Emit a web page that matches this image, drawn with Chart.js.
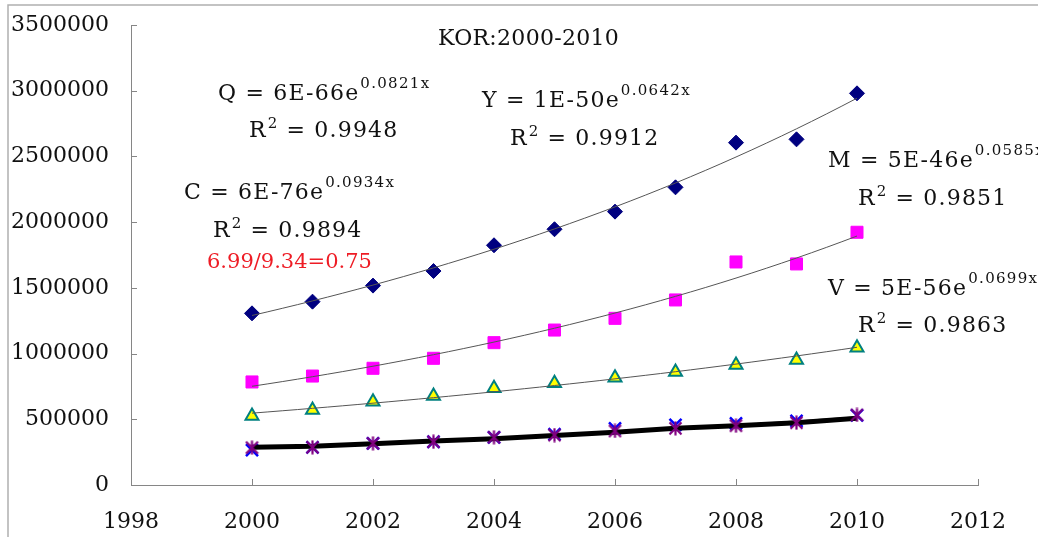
<!DOCTYPE html>
<html>
<head>
<meta charset="utf-8">
<script src="https://cdn.jsdelivr.net/npm/chart.js@4.4.1/dist/chart.umd.min.js"></script>
<style>
  html, body { margin: 0; padding: 0; background: #ffffff; }
  canvas { display: block; }
</style>
</head>
<body>
<canvas id="chart" width="1038" height="537"></canvas>
<script>
// Korea, 2000-2010: yearly values of five aggregates with exponential trends
const years = [2000, 2001, 2002, 2003, 2004, 2005, 2006, 2007, 2008, 2009, 2010];

const qValues = [1306000, 1395000, 1517000, 1628000, 1824000, 1946000, 2080000, 2265000, 2605000, 2630000, 2980000];
const cValues = [784000, 829000, 888000, 964000, 1083000, 1179000, 1268000, 1408000, 1697000, 1682000, 1923000];
const vValues = [525000, 571000, 634000, 677000, 736000, 774000, 816000, 860000, 913000, 951000, 1045000];
const yValues = [284000, 287000, 317000, 329000, 363000, 380000, 411000, 431000, 451000, 474000, 533000];
const mValues = [266000, 287000, 317000, 329000, 363000, 386000, 431000, 457000, 469000, 487000, 530000];
// bold trend line drawn under the M markers
const mTrendValues = [287000, 294000, 314000, 335000, 352000, 377000, 401000, 431000, 451000, 474000, 508000];

const xRange = [1998, 2012];
const xStep = 2;
const yRange = [0, 3500000];
const yStep = 500000;

const title = 'KOR:2000-2010';
const equations = [
  { key: 'Q', lhs: 'Q = 6E-66e', rate: '0.0821x', r2: '0.9948' },
  { key: 'Y', lhs: 'Y = 1E-50e', rate: '0.0642x', r2: '0.9912' },
  { key: 'C', lhs: 'C = 6E-76e', rate: '0.0934x', r2: '0.9894' },
  { key: 'M', lhs: 'M = 5E-46e', rate: '0.0585x', r2: '0.9851' },
  { key: 'V', lhs: 'V = 5E-56e', rate: '0.0699x', r2: '0.9863' }
];
const ratioNote = '6.99/9.34=0.75';

// ---------------------------------------------------------------------------

const toPoints = (xs, ys) => xs.map((x, i) => ({ x: x, y: ys[i] }));

// least-squares fit of ln(y) against x, i.e. y = a * e^(b x)
function expTrend(xs, ys) {
  const n = xs.length, x0 = xs[0];
  let sx = 0, sy = 0, sxx = 0, sxy = 0;
  xs.forEach((x, i) => {
    const t = x - x0, l = Math.log(ys[i]);
    sx += t; sy += l; sxx += t * t; sxy += t * l;
  });
  const b = (n * sxy - sx * sy) / (n * sxx - sx * sx);
  const a = (sy - b * sx) / n;
  const pts = [];
  for (let x = xs[0]; x <= xs[n - 1] + 1e-9; x += 0.25) {
    pts.push({ x: x, y: Math.exp(a + b * (x - x0)) });
  }
  return pts;
}

function asteriskMarker(color, size, lw) {
  const c = document.createElement('canvas');
  c.width = size; c.height = size;
  const g = c.getContext('2d');
  const m = size / 2, d = size / 2 - 1.5, v = size / 2 - 0.5;
  g.strokeStyle = color;
  g.lineWidth = lw;
  g.beginPath();
  g.moveTo(m - d, m - d); g.lineTo(m + d, m + d);
  g.moveTo(m + d, m - d); g.lineTo(m - d, m + d);
  g.moveTo(m, m - v); g.lineTo(m, m + v);
  g.stroke();
  return c;
}

const TEXT_COLOR = '#111111';
const AXIS_COLOR = '#868686';
const TREND_COLOR = '#555555';
const MAIN_FONT = '22px "DejaVu Serif", "Liberation Serif", serif';
const SUP_FONT = '15px "DejaVu Serif", "Liberation Serif", serif';

// inward tick marks on both axes
const innerTicks = {
  id: 'innerTicks',
  beforeDatasetsDraw(chart) {
    const { ctx, chartArea, scales } = chart;
    const len = 6;
    ctx.save();
    ctx.strokeStyle = AXIS_COLOR;
    ctx.lineWidth = 1;
    ctx.beginPath();
    scales.x.ticks.forEach(t => {
      const px = Math.round(scales.x.getPixelForValue(t.value)) + 0.5;
      ctx.moveTo(px, chartArea.bottom);
      ctx.lineTo(px, chartArea.bottom - len);
    });
    scales.y.ticks.forEach(t => {
      const py = Math.round(scales.y.getPixelForValue(t.value)) + 0.5;
      ctx.moveTo(chartArea.left, py);
      ctx.lineTo(chartArea.left + len, py);
    });
    ctx.stroke();
    ctx.restore();
  }
};

// frame edge, title, trend equations and the ratio note
const annotations = {
  id: 'annotations',
  afterDraw(chart, args, opts) {
    const ctx = chart.ctx;
    ctx.save();
    ctx.strokeStyle = '#b0b0b0';
    ctx.lineWidth = 1.5;
    ctx.beginPath();
    ctx.moveTo(8, chart.height + 2);
    ctx.lineTo(8, 5);
    ctx.lineTo(chart.width + 2, 5);
    ctx.stroke();

    ctx.fillStyle = TEXT_COLOR;
    ctx.textAlign = 'left';
    ctx.textBaseline = 'alphabetic';
    const spacing = 'letterSpacing' in ctx;
    const setSpacing = s => { if (spacing) ctx.letterSpacing = s; };

    ctx.font = MAIN_FONT;
    setSpacing('0.3px');
    ctx.fillText(title, opts.title.x, opts.title.y);

    equations.forEach(eq => {
      const p = opts.places[eq.key];
      // y = a e^(bx)
      ctx.font = MAIN_FONT;
      setSpacing('1.2px');
      ctx.fillText(eq.lhs, p.eq[0], p.eq[1]);
      const w = ctx.measureText(eq.lhs).width;
      ctx.font = SUP_FONT;
      setSpacing('1.3px');
      ctx.fillText(eq.rate, p.eq[0] + w + 1, p.eq[1] - 12);
      // R^2 = ...
      ctx.font = MAIN_FONT;
      setSpacing('1.2px');
      ctx.fillText('R', p.r2[0], p.r2[1]);
      let x = p.r2[0] + ctx.measureText('R').width;
      ctx.font = SUP_FONT;
      setSpacing('0px');
      ctx.fillText('2', x + 1, p.r2[1] - 9);
      x += ctx.measureText('2').width + 2;
      ctx.font = MAIN_FONT;
      setSpacing('1.2px');
      ctx.fillText(' = ' + eq.r2, x, p.r2[1]);
    });

    ctx.fillStyle = '#ee1c25';
    ctx.font = '21px "DejaVu Serif", "Liberation Serif", serif';
    setSpacing('0px');
    ctx.fillText(ratioNote, opts.note.x, opts.note.y);
    ctx.restore();
  }
};

const tickFont = { family: '"DejaVu Serif", "Liberation Serif", serif', size: 22 };

new Chart(document.getElementById('chart'), {
  type: 'scatter',
  data: {
    datasets: [
      {
        label: 'Q', data: toPoints(years, qValues), order: 5,
        pointStyle: 'rectRot', pointRadius: 7.5, pointHoverRadius: 7.5,
        backgroundColor: '#000080', borderColor: '#000080', borderWidth: 1
      },
      {
        label: 'C', data: toPoints(years, cValues), order: 5,
        pointStyle: 'rect', pointRadius: 8.5, pointHoverRadius: 8.5,
        backgroundColor: '#ff00ff', borderColor: '#ff00ff', borderWidth: 1
      },
      {
        label: 'V', data: toPoints(years, vValues), order: 5,
        pointStyle: 'triangle', pointRadius: 7.5, pointHoverRadius: 7.5,
        backgroundColor: '#ffff00', borderColor: '#008080', borderWidth: 2
      },
      {
        label: 'M', data: toPoints(years, mValues), order: 10,
        pointStyle: 'crossRot', pointRadius: 8.5, pointHoverRadius: 8.5,
        backgroundColor: '#0000ff', borderColor: '#0000ff', borderWidth: 2.5
      },
      {
        label: 'Y', data: toPoints(years, yValues), order: 1,
        pointStyle: asteriskMarker('#800080', 15, 2.2), pointRadius: 7,
        backgroundColor: '#800080', borderColor: '#800080'
      },
      {
        label: 'Q trend', data: expTrend(years, qValues), order: 3, showLine: true,
        borderColor: TREND_COLOR, borderWidth: 1, pointRadius: 0, pointHoverRadius: 0
      },
      {
        label: 'C trend', data: expTrend(years, cValues), order: 3, showLine: true,
        borderColor: TREND_COLOR, borderWidth: 1, pointRadius: 0, pointHoverRadius: 0
      },
      {
        label: 'V trend', data: expTrend(years, vValues), order: 3, showLine: true,
        borderColor: TREND_COLOR, borderWidth: 1, pointRadius: 0, pointHoverRadius: 0
      },
      {
        label: 'Y trend', data: expTrend(years, yValues), order: 9, showLine: true,
        borderColor: TREND_COLOR, borderWidth: 1, pointRadius: 0, pointHoverRadius: 0
      },
      {
        label: 'M trend', data: toPoints(years, mTrendValues), order: 8, showLine: true,
        borderColor: '#000000', borderWidth: 5, pointRadius: 0, pointHoverRadius: 0
      }
    ]
  },
  options: {
    responsive: false,
    animation: false,
    events: [],
    layout: { padding: { left: 0, right: 60, top: 25, bottom: 0 } },
    plugins: {
      legend: { display: false },
      tooltip: { enabled: false },
      annotations: {
        title: { x: 438, y: 45 },
        note: { x: 207, y: 268 },
        places: {
          Q: { eq: [218, 100], r2: [249, 137] },
          Y: { eq: [482, 107], r2: [510, 145] },
          C: { eq: [184, 199], r2: [213, 237] },
          M: { eq: [828, 167], r2: [858, 205] },
          V: { eq: [828, 295], r2: [858, 332] }
        }
      }
    },
    scales: {
      x: {
        type: 'linear', min: xRange[0], max: xRange[1],
        afterFit: s => { s.height = 52; s.paddingLeft = 0; s.paddingRight = 0; },
        ticks: { stepSize: xStep, color: TEXT_COLOR, font: tickFont, padding: 24, maxRotation: 0,
                 callback: v => String(v) },
        grid: { display: false, drawTicks: false },
        border: { display: true, color: AXIS_COLOR, width: 1 }
      },
      y: {
        type: 'linear', min: yRange[0], max: yRange[1],
        afterFit: s => { s.width = 131; s.paddingTop = 0; s.paddingBottom = 0; },
        ticks: { stepSize: yStep, color: TEXT_COLOR, font: tickFont, padding: 22,
                 callback: v => String(v) },
        grid: { display: false, drawTicks: false },
        border: { display: true, color: AXIS_COLOR, width: 1 }
      }
    }
  },
  plugins: [innerTicks, annotations]
});
</script>
</body>
</html>
